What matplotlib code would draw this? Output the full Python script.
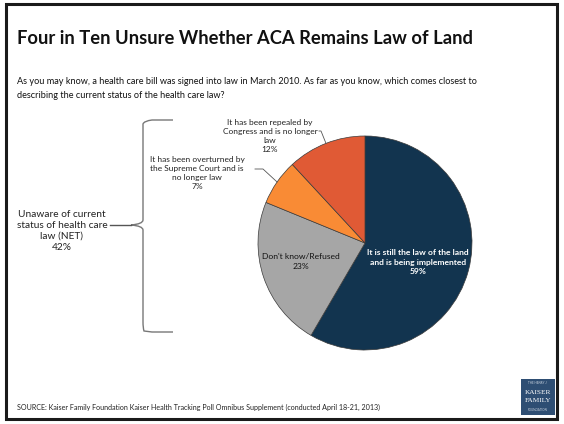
import numpy as np
import matplotlib
matplotlib.use("Agg")
import matplotlib.pyplot as plt
from matplotlib.patches import Rectangle, PathPatch
from matplotlib.path import Path

plt.rcParams['font.family'] = ['Lato', 'DejaVu Sans']

# ---- data ----
categories = ["It is still the law of the land\nand is being implemented",
              "Don't know/Refused",
              "It has been overturned by\nthe Supreme Court and is\nno longer law",
              "It has been repealed by\nCongress and is no longer\nlaw"]
values = [59, 23, 7, 12]
colors = ["#12344F", "#A6A6A6", "#F98B35", "#E05A35"]
net_label = "Unaware of current\nstatus of health care\nlaw (NET)"
net_value = 42

title = "Four in Ten Unsure Whether ACA Remains Law of Land"
subtitle = ("As you may know, a health care bill was signed into law in March 2010. As far as you know, which comes closest to\n"
            "describing the current status of the health care law?")
source = "SOURCE: Kaiser Family Foundation Kaiser Health Tracking Poll Omnibus Supplement (conducted April 18-21, 2013)"

W, H = 564, 424
fig = plt.figure(figsize=(W / 100, H / 100), dpi=100)
fig.patch.set_facecolor("white")

# pie (drawn first, below the overlay)
cx, cy, r = 365, 243, 107
pax = fig.add_axes([(cx - r) / W, (H - cy - r) / H, 2 * r / W, 2 * r / H])
pax.set_zorder(1)
wedges, _ = pax.pie(values, colors=colors, startangle=90, counterclock=False,
                    wedgeprops=dict(edgecolor="#3a3a3a", linewidth=0.5))
pax.set_xlim(-1, 1)
pax.set_ylim(-1, 1)
pax.set_aspect("equal")
pax.axis("off")

# overlay axes in pixel coordinates
ov = fig.add_axes([0, 0, 1, 1])
ov.set_zorder(2)
ov.patch.set_visible(False)
ov.set_xlim(0, W)
ov.set_ylim(H, 0)
ov.axis("off")

# frame
ov.add_patch(Rectangle((6, 4), 551, 415, fill=False, edgecolor="#1a1a1a", lw=2.2))

def edge_point(w, frac=1.0):
    a = np.deg2rad((w.theta1 + w.theta2) / 2)
    return cx + frac * r * np.cos(a), cy - frac * r * np.sin(a)

# title / subtitle
ov.text(17, 38, title, fontsize=13.2, fontweight="bold", va="center", ha="left", color="#111111")
ov.text(17, 88.5, subtitle, fontsize=6.55, va="center", ha="left", color="#111111", linespacing=1.7)

# in-pie labels
ov.text(418, 262, f"{categories[0]}\n{values[0]}%", fontsize=6.1, ha="center", va="center",
        color="white", fontweight="bold", linespacing=1.35)
ov.text(301, 261.5, f"{categories[1]}\n{values[1]}%", fontsize=6.1, ha="center", va="center",
        color="#111111", linespacing=1.35)

# outside labels
ov.text(197, 173, f"{categories[2]}\n{values[2]}%", fontsize=6.0, ha="center", va="center",
        color="#222222", linespacing=1.3)
ov.text(270, 136, f"{categories[3]}\n{values[3]}%", fontsize=6.0, ha="center", va="center",
        color="#222222", linespacing=1.3)

# leader lines
ex, ey = edge_point(wedges[2])
ov.plot([255, 263, ex], [169, 169, ey], color="#555555", lw=0.6)
ex, ey = edge_point(wedges[3])
ov.plot([319, 321, ex], [131, 131, ey], color="#555555", lw=0.6)

# NET label and brace
ov.text(62, 231, f"{net_label}\n{net_value}%", fontsize=7.3, ha="center", va="center",
        color="#222222", linespacing=1.25)
bx, top, bot, mid = 143, 120, 332, 225
verts = [(173, top), (152, top), (bx + 1, top + 1), (bx, top + 4), (bx, top + 10),
         (bx, mid - 5), (bx, mid - 1), (131, mid),
         (bx, mid + 1), (bx, mid + 5),
         (bx, bot - 10), (bx, bot - 4), (bx + 1, bot - 1), (152, bot), (173, bot)]
codes = [Path.MOVETO, Path.LINETO, Path.CURVE3, Path.CURVE3, Path.LINETO,
         Path.LINETO, Path.CURVE3, Path.CURVE3,
         Path.CURVE3, Path.CURVE3,
         Path.LINETO, Path.CURVE3, Path.CURVE3, Path.LINETO, Path.LINETO]
ov.add_patch(PathPatch(Path(verts, codes), fill=False, edgecolor="#777777", lw=1.0))
ov.plot([110, 131], [mid, mid], color="#555555", lw=1.0)

# source
ov.text(17, 407, source, fontsize=5.1, ha="left", va="center", color="#222222")

# logo
ov.add_patch(Rectangle((521, 379), 34, 36, facecolor="#2E4E73", edgecolor="none"))
ov.text(538, 383.5, "THE HENRY J.", fontsize=2.2, color="#c8d2de", ha="center", va="center")
ov.text(538, 392, "KAISER", fontsize=5.2, color="white", ha="center", va="center", family="Liberation Serif")
ov.text(538, 401, "FAMILY", fontsize=5.2, color="white", ha="center", va="center", family="Liberation Serif")
ov.text(538, 410, "FOUNDATION", fontsize=2.2, color="#c8d2de", ha="center", va="center")

fig.savefig("out.png", dpi=100, facecolor="white")
